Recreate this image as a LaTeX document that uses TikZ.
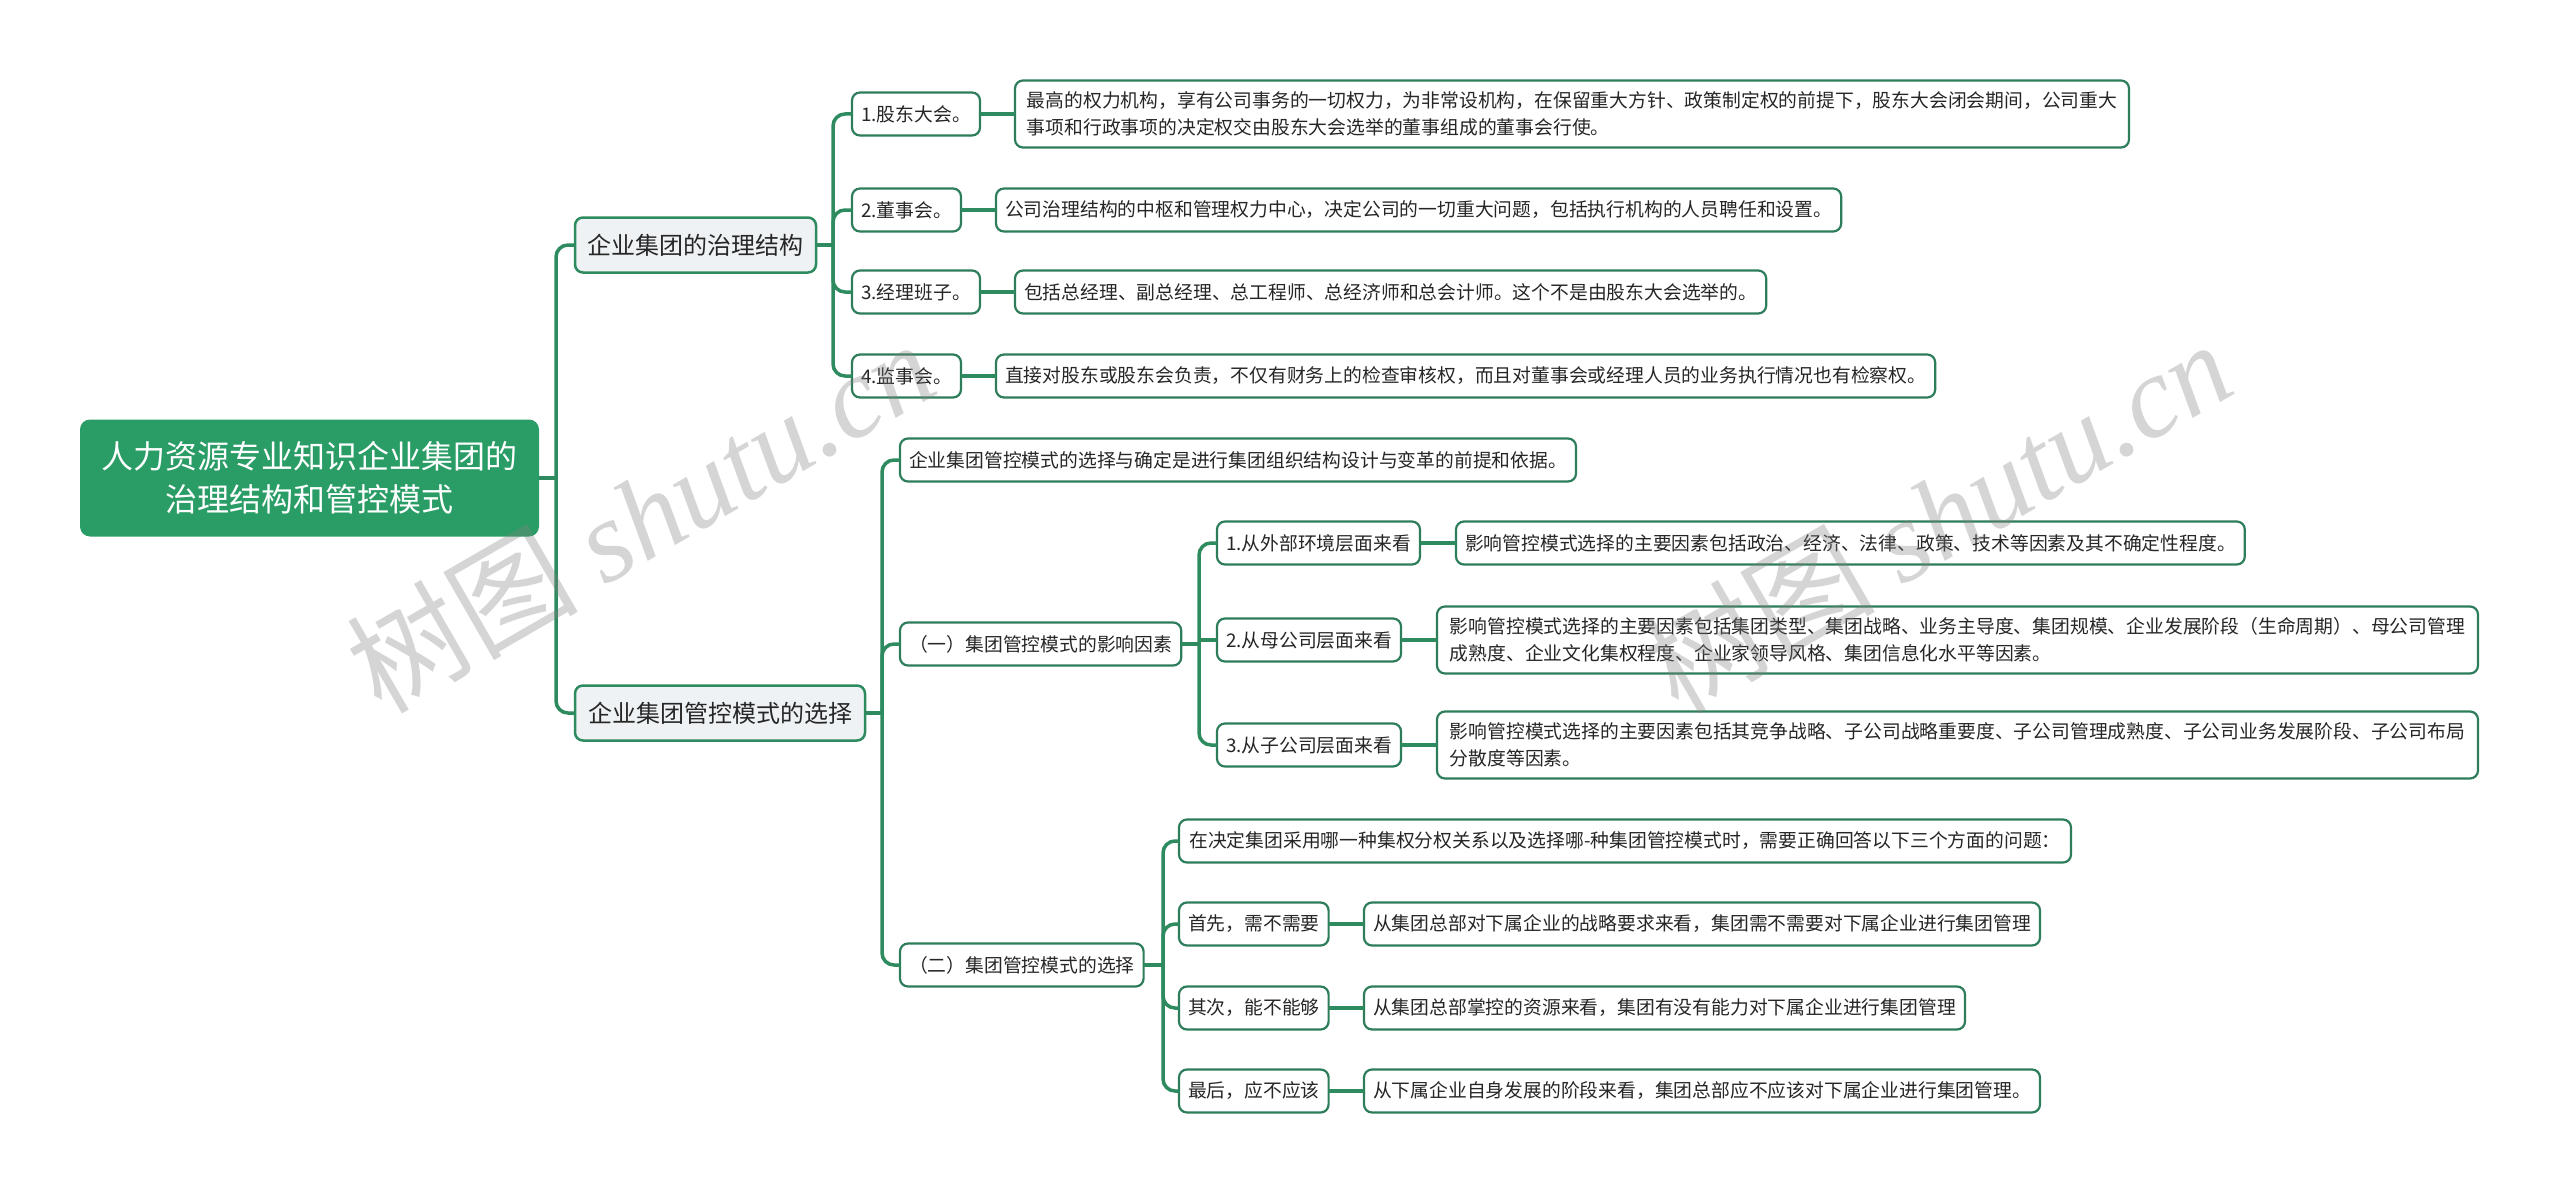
\documentclass[tikz,border=0pt]{standalone}
\usepackage{fontspec}
\setmainfont{Noto Sans CJK SC}
\newfontfamily\wmfont{Liberation Serif}
\definecolor{linec}{HTML}{2E8B60}
\definecolor{leafc}{HTML}{2D7D5A}
\definecolor{rootc}{HTML}{2A9D66}
\definecolor{lonefill}{HTML}{EEF2F4}
\definecolor{txtc}{HTML}{262626}
\begin{document}
\begin{tikzpicture}[x=0.5pt,y=-0.5pt,
  every node/.style={inner sep=0pt, outer sep=0pt},
  rootbox/.style={fill=rootc, rounded corners=5pt, text=white, align=center,
    font=\fontsize{16pt}{21.5pt}\selectfont, minimum width=229.5pt, minimum height=58.5pt},
  lonebox/.style={fill=lonefill, draw=linec, line width=1.25pt, rounded corners=4pt,
    text=txtc, anchor=west, font=\fontsize{12pt}{15pt}\selectfont, minimum height=27.5pt},
  leafbox/.style={fill=white, draw=leafc, line width=1.1pt, rounded corners=4pt,
    text=txtc, anchor=west, align=left, inner xsep=4.5pt, font=\fontsize{9.4pt}{13.5pt}\selectfont,
    minimum height=21.5pt},
  twoline/.style={minimum height=33.5pt},
  conn/.style={draw=linec, line width=1.75pt, rounded corners=6pt},
  wmark/.style={text=gray, text opacity=0.33, font=\fontsize{58pt}{58pt}\selectfont}
]
\useasboundingbox (0,0) rectangle (2560,1193);

% root
\node[rootbox] (root) at (309.5,478) {人力资源专业知识企业集团的\\治理结构和管控模式};

% level 1
\node[lonebox, minimum width=120.5pt] (ga) at (575,245) {企业集团的治理结构};
\node[lonebox, minimum width=145pt] (gb) at (575,713) {企业集团管控模式的选择};

% governance
\node[leafbox, minimum width=64pt] (g1) at (852,114) {1.股东大会。};
\node[leafbox, twoline, minimum width=557pt] (d1) at (1015,114) {最高的权力机构，享有公司事务的一切权力，为非常设机构，在保留重大方针、政策制定权的前提下，股东大会闭会期间，公司重大\\事项和行政事项的决定权交由股东大会选举的董事组成的董事会行使。};
\node[leafbox, minimum width=54.5pt] (g2) at (852,210) {2.董事会。};
\node[leafbox, minimum width=422.5pt] (d2) at (996,210) {公司治理结构的中枢和管理权力中心，决定公司的一切重大问题，包括执行机构的人员聘任和设置。};
\node[leafbox, minimum width=64pt] (g3) at (852,292) {3.经理班子。};
\node[leafbox, minimum width=375.5pt] (d3) at (1015,292) {包括总经理、副总经理、总工程师、总经济师和总会计师。这个不是由股东大会选举的。};
\node[leafbox, minimum width=54.5pt] (g4) at (852,376) {4.监事会。};
\node[leafbox, minimum width=469.5pt] (d4) at (996,376) {直接对股东或股东会负责，不仅有财务上的检查审核权，而且对董事会或经理人员的业务执行情况也有检察权。};

% control
\node[leafbox, minimum width=338pt] (m0) at (900,460) {企业集团管控模式的选择与确定是进行集团组织结构设计与变革的前提和依据。};
\node[leafbox, minimum width=140.5pt] (m1) at (900,644) {（一）集团管控模式的影响因素};
\node[leafbox, minimum width=121.5pt] (m2) at (900,965) {（二）集团管控模式的选择};

\node[leafbox, minimum width=101.5pt] (f1) at (1217,543) {1.从外部环境层面来看};
\node[leafbox, minimum width=394pt] (fd1) at (1456,543) {影响管控模式选择的主要因素包括政治、经济、法律、政策、技术等因素及其不确定性程度。};
\node[leafbox, minimum width=92pt] (f2) at (1217,640) {2.从母公司层面来看};
\node[leafbox, twoline, minimum width=520.5pt] (fd2) at (1437,640) {影响管控模式选择的主要因素包括集团类型、集团战略、业务主导度、集团规模、企业发展阶段（生命周期）、母公司管理\\成熟度、企业文化集权程度、企业家领导风格、集团信息化水平等因素。};
\node[leafbox, minimum width=92pt] (f3) at (1217,745) {3.从子公司层面来看};
\node[leafbox, twoline, minimum width=520.5pt] (fd3) at (1437,745) {影响管控模式选择的主要因素包括其竞争战略、子公司战略重要度、子公司管理成熟度、子公司业务发展阶段、子公司布局\\分散度等因素。};

\node[leafbox, minimum width=446pt] (s0) at (1179,841) {在决定集团采用哪一种集权分权关系以及选择哪-种集团管控模式时，需要正确回答以下三个方面的问题：};
\node[leafbox, minimum width=74.5pt] (s1) at (1179,924) {首先，需不需要};
\node[leafbox, minimum width=338pt] (sd1) at (1364,924) {从集团总部对下属企业的战略要求来看，集团需不需要对下属企业进行集团管理};
\node[leafbox, minimum width=74.5pt] (s2) at (1179,1008) {其次，能不能够};
\node[leafbox, minimum width=300.5pt] (sd2) at (1364,1008) {从集团总部掌控的资源来看，集团有没有能力对下属企业进行集团管理};
\node[leafbox, minimum width=74.5pt] (s3) at (1179,1091) {最后，应不应该};
\node[leafbox, minimum width=338pt] (sd3) at (1364,1091) {从下属企业自身发展的阶段来看，集团总部应不应该对下属企业进行集团管理。};

% branch points
\coordinate (b0) at (556,478);
\coordinate (b1) at (833,245);
\coordinate (b2) at (882,713);
\coordinate (b3) at (1199,644);
\coordinate (b4) at (1163,965);

% connectors
\draw[conn] (root.east) -- (b0);
\draw[conn] (b0) |- (ga.west);
\draw[conn] (b0) |- (gb.west);

\draw[conn] (ga.east) -- (b1);
\foreach \c in {g1,g2,g3,g4} \draw[conn] (b1) |- (\c.west);
\draw[conn] (g1.east) -- (d1.west);
\draw[conn] (g2.east) -- (d2.west);
\draw[conn] (g3.east) -- (d3.west);
\draw[conn] (g4.east) -- (d4.west);

\draw[conn] (gb.east) -- (b2);
\foreach \c in {m0,m1,m2} \draw[conn] (b2) |- (\c.west);

\draw[conn] (m1.east) -- (b3);
\draw[conn] (b3) |- (f1.west);
\draw[conn] (b3) |- (f3.west);
\draw[conn] (b3 |- f2.west) -- (f2.west);
\draw[conn] (f1.east) -- (fd1.west);
\draw[conn] (f2.east) -- (fd2.west);
\draw[conn] (f3.east) -- (fd3.west);

\draw[conn] (m2.east) -- (b4);
\foreach \c in {s0,s1,s2,s3} \draw[conn] (b4) |- (\c.west);
\draw[conn] (s1.east) -- (sd1.west);
\draw[conn] (s2.east) -- (sd2.west);
\draw[conn] (s3.east) -- (sd3.west);

% watermarks
\node[wmark, rotate=30] (wm1) at (640,515) {树图 {\wmfont\itshape shutu.cn}};
\node[wmark, rotate=30] (wm2) at (1937,515) {树图 {\wmfont\itshape shutu.cn}};
\end{tikzpicture}
\end{document}
